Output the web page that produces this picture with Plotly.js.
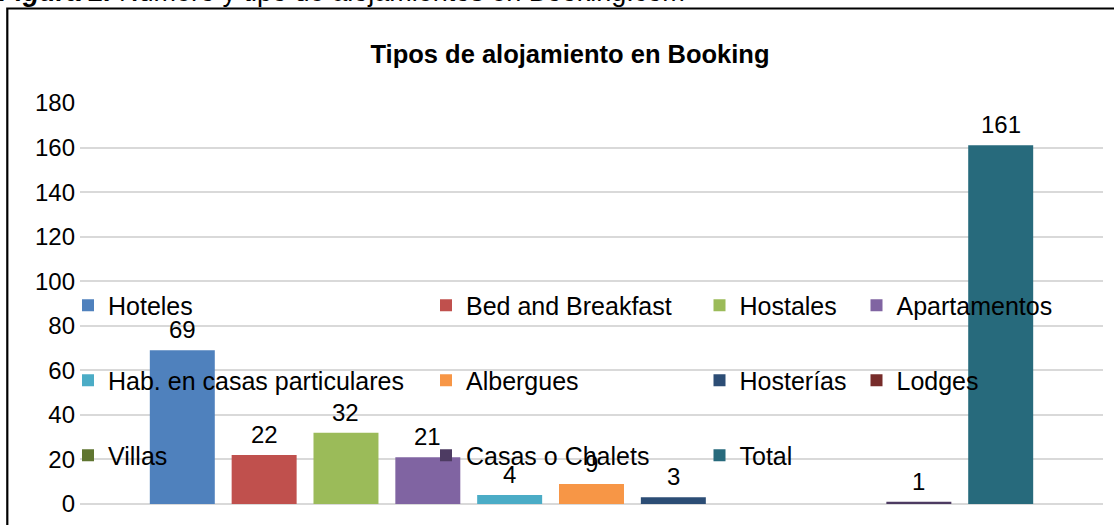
<!DOCTYPE html>
<html>
<head>
<meta charset="utf-8">
<script src="https://cdn.plot.ly/plotly-3.0.1.min.js"></script>
<style>
  html, body { margin: 0; padding: 0; background: #ffffff; }
  #chart { width: 1114px; height: 525px; }
</style>
</head>
<body>
<div id="chart"></div>
<script>
// ---- Data ----
const categories = ["Hoteles", "Bed and Breakfast", "Hostales", "Apartamentos",
  "Hab. en casas particulares", "Albergues", "Hosterías", "Lodges",
  "Villas", "Casas o Chalets", "Total"];
const values = [69, 22, 32, 21, 4, 9, 3, null, null, 1, 161];
const colors = ["#4F81BD", "#C0504D", "#9BBB59", "#8064A2", "#4BACC6", "#F79646",
  "#2C4D75", "#772C2A", "#5F7530", "#4D3B62", "#276A7C"];
const yTicks = [0, 20, 40, 60, 80, 100, 120, 140, 160, 180];
const chartTitle = "Tipos de alojamiento en Booking";
const figureCaption = "<b><i>Figura 2.</i></b> Número y tipo de alojamientos en Booking.com";

// ---- Geometry helpers (pixel -> paper) ----
const W = 1114, H = 525;
const M = { l: 80, r: 11, t: 103, b: 21 };
const PW = W - M.l - M.r, PH = H - M.t - M.b;
const px = x => (x - M.l) / PW;
const py = y => (H - M.b - y) / PH;

const FONT = "Liberation Sans, Arial, sans-serif";
const legendNames = ["legend", "legend2", "legend3", "legend4"];

const traces = categories.map((c, i) => ({
  type: "bar",
  x: [c],
  y: [values[i]],
  name: c,
  width: 0.794,
  marker: { color: colors[i], line: { width: 0 } },
  legend: legendNames[i % 4],
  legendgroup: "g" + i,
  hoverinfo: "x+y"
}));

const labelAnnotations = categories.map((c, i) => values[i] == null ? null : ({
  x: c, y: values[i], xref: "x", yref: "y",
  text: String(values[i]), showarrow: false,
  yanchor: "bottom", xanchor: "center", yshift: 5,
  font: { family: FONT, size: 24, color: "#000000" }
})).filter(a => a);

const legendCommon = {
  orientation: "v",
  xanchor: "left", yanchor: "top",
  bgcolor: "rgba(0,0,0,0)",
  borderwidth: 0,
  traceorder: "grouped",
  tracegroupgap: 39.5,
  font: { family: FONT, size: 25, color: "#000000" }
};
const colX = [68, 426, 699.5, 856.5];
const legendTopPx = 282.5;

const layout = {
  width: W, height: H,
  margin: M,
  paper_bgcolor: "#ffffff",
  plot_bgcolor: "#ffffff",
  barmode: "overlay",
  showlegend: true,
  title: {
    text: "<b>" + chartTitle + "</b>",
    font: { family: FONT, size: 25.5, color: "#000000" },
    x: px(570), xref: "paper", xanchor: "center",
    y: 1 - 54 / H, yanchor: "middle"
  },
  xaxis: {
    type: "category",
    categoryorder: "array",
    categoryarray: categories,
    range: [-1.25, 11.25],
    showticklabels: false,
    showgrid: false,
    zeroline: false,
    showline: false,
    ticks: "",
    fixedrange: true
  },
  yaxis: {
    range: [0, 180],
    tickvals: yTicks,
    ticktext: yTicks.map(String),
    showgrid: true,
    gridcolor: "#d9d9d9",
    gridwidth: 2,
    zeroline: true,
    zerolinecolor: "#d9d9d9",
    zerolinewidth: 2,
    showline: false,
    ticks: "",
    ticklabelstandoff: 4,
    tickfont: { family: FONT, size: 24, color: "#000000" },
    fixedrange: true
  },
  legend:  Object.assign({}, legendCommon, { x: px(colX[0]), y: py(legendTopPx) }),
  legend2: Object.assign({}, legendCommon, { x: px(colX[1]), y: py(legendTopPx) }),
  legend3: Object.assign({}, legendCommon, { x: px(colX[2]), y: py(legendTopPx) }),
  legend4: Object.assign({}, legendCommon, { x: px(colX[3]), y: py(legendTopPx) }),
  annotations: labelAnnotations.concat([{
    xref: "paper", yref: "paper",
    x: px(-3), y: py(9),
    xanchor: "left", yanchor: "bottom",
    text: figureCaption, showarrow: false,
    font: { family: FONT, size: 27, color: "#000000" }
  }]),
  shapes: [{
    type: "rect", xref: "paper", yref: "paper",
    x0: px(7.3), x1: px(1125), y0: py(8.5), y1: py(540),
    line: { color: "#000000", width: 2.2 },
    fillcolor: "rgba(0,0,0,0)",
    layer: "above"
  }]
};

Plotly.newPlot("chart", traces, layout, { displayModeBar: false, staticPlot: true });
</script>
</body>
</html>
